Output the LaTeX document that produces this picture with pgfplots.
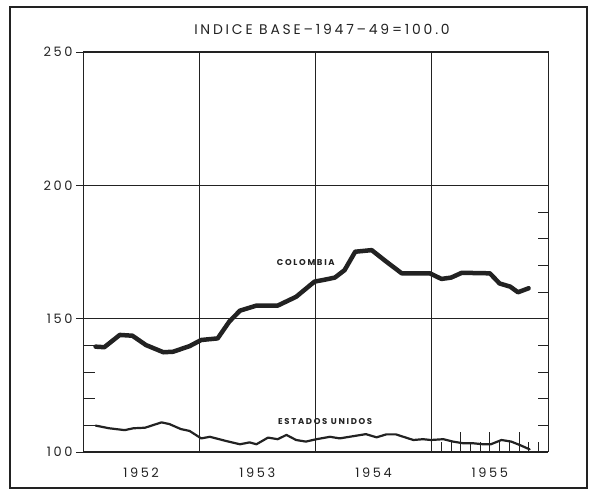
\documentclass[border=0pt]{standalone}
\usepackage{fontspec}
\setmainfont{Poppins}
\newfontfamily\ls[LetterSpace=20]{Poppins}
\usepackage{pgfplots}
\pgfplotsset{compat=1.18}
\definecolor{ink}{HTML}{222222}
\begin{document}
\begin{tikzpicture}[x=1bp,y=1bp]
\path (0,0) rectangle (590,491);
\draw[ink, line width=1.2bp] (10,3) rectangle (587,484);
\node[text=ink] at (322,462) {\ls\fontsize{14}{14}\selectfont INDICE BASE–1947–49=100.0};
\begin{axis}[at={(83bp,39bp)}, anchor=south west, scale only axis,
  width=465bp, height=400bp,
  xmin=0, xmax=48, ymin=100, ymax=250,
  axis line style={ink, line width=1bp},
  xtick={6,18,30,42}, xticklabels={1952,1953,1954,1955},
  xtick style={draw=none},
  xticklabel style={yshift=-5bp},
  extra x ticks={12,24,36}, extra x tick labels={},
  extra x tick style={grid=major, major tick length=0pt},
  ytick={100,150,200,250}, ymajorgrids, ytick pos=left,
  tick align=outside, major tick length=7bp,
  grid style={ink, line width=0.8bp},
  ytick style={ink, line width=0.8bp},
  ticklabel style={font=\ls\fontsize{13}{13}\selectfont, text=ink},
  /pgf/number format/assume math mode=true,
  clip=false,
]
\pgfplotsinvokeforeach{110,120,130,140}{\draw[ink, line width=0.8bp] (axis cs:0,#1) -- ++(12bp,0bp);}
\pgfplotsinvokeforeach{110,120,130,140,160,170,180,190}{\draw[ink, line width=0.8bp] (axis cs:48,#1) -- ++(-10bp,0bp);}
\pgfplotsinvokeforeach{37,38,40,41,43,44,46,47}{\draw[ink, line width=0.8bp] (axis cs:#1,100) -- ++(0bp,10bp);}
\pgfplotsinvokeforeach{39,42,45}{\draw[ink, line width=0.8bp] (axis cs:#1,100) -- ++(0bp,20bp);}
% Colombia
\addplot[ink, line width=4.5bp, line join=round, line cap=round] coordinates {
(1.3,139.5)(2.2,139.3)(3.8,143.9)(5.1,143.6)(6.5,140.1)(8.3,137.4)(9.3,137.6)(11,139.7)(12.2,142)(13.9,142.6)(15.1,148.9)(16.2,153)(17.9,154.9)(20.1,154.9)(22,158.2)(23.9,163.9)(24.8,164.5)(26,165.4)(27,168.2)(28.1,175.1)(29.8,175.7)(31.3,171.4)(32.9,167)(35.8,167)(37,164.9)(38,165.4)(39.1,167.2)(42,167)(43,163.2)(44.1,162)(44.9,159.9)(46,161.4)
};
% Estados Unidos
\addplot[ink, line width=2.2bp, line join=round, line cap=round] coordinates {
(1.3,109.9)(2.7,108.9)(4.3,108.2)(5.2,108.9)(6.4,109.1)(8.1,111.1)(8.9,110.5)(10.1,108.6)(11,107.9)(12.2,105.1)(13.1,105.7)(14.8,104.1)(16.2,102.9)(17.2,103.6)(17.9,102.9)(19.1,105.4)(20.1,104.8)(21,106.4)(22,104.5)(23,103.9)(24.1,104.8)(25.5,105.7)(26.5,105.1)(27.5,105.7)(29.2,106.7)(30.3,105.5)(31.3,106.6)(32.3,106.6)(34.1,104.5)(35.1,104.8)(35.9,104.5)(37.2,104.8)(38.2,103.9)(39.2,103.3)(40.2,103.3)(41.3,102.9)(42.1,102.9)(43.2,104.5)(44.2,103.9)(45.1,102.6)(46.1,101)
};
\node[text=ink] at (axis cs:23,171.2) {\ls\fontsize{8.5}{8.5}\selectfont\bfseries COLOMBIA};
\node[text=ink] at (axis cs:25,111.4) {\ls\fontsize{8.5}{8.5}\selectfont\bfseries ESTADOS UNIDOS};
\end{axis}
\end{tikzpicture}
\end{document}
